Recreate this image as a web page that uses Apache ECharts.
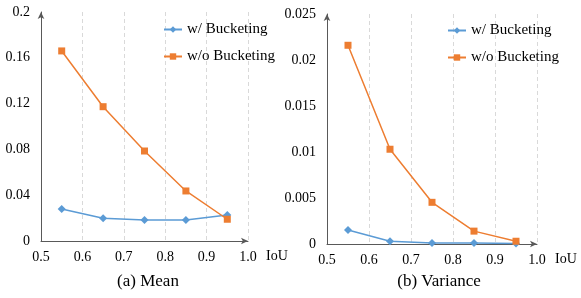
<!DOCTYPE html>
<html><head><meta charset="utf-8">
<script src="https://cdn.jsdelivr.net/npm/echarts@6/dist/echarts.min.js"></script>
<style>html,body{margin:0;padding:0;background:#fff}#c{width:581px;height:298px}</style>
</head><body><div id="c"></div>
<script>
const iou = [0.55, 0.65, 0.75, 0.85, 0.95];
const meanWith = [0.028, 0.0198, 0.0183, 0.0183, 0.0227];
const meanWithout = [0.166, 0.1173, 0.0786, 0.0437, 0.019];
const varWith = [0.00152, 0.0003, 0.0001, 0.0001, 0.00005];
const varWithout = [0.0216, 0.0103, 0.00453, 0.0014, 0.0003];
const seriesNames = ['w/ Bucketing', 'w/o Bucketing'];
const titles = ['(a) Mean', '(b) Variance'];
const xAxisName = 'IoU';

const FONT = 'Liberation Serif';
const BLUE = '#5B9BD5', ORANGE = '#ED7D31';
const pair = (xs, ys) => xs.map((x, i) => [x, ys[i]]);

const chart = echarts.init(document.getElementById('c'));
const xAxisBase = gi => ({
  type: 'value', gridIndex: gi, min: 0.5, max: 1.0, interval: 0.1,
  name: xAxisName, nameLocation: 'end', nameGap: 18,
  nameTextStyle: {fontFamily: FONT, fontSize: 14, color: '#000', align: 'left', verticalAlign: 'top', padding: [8, 0, 0, 0]},
  axisLine: {show: true, lineStyle: {color: '#595959', width: 1}, symbol: ['none', 'arrow'], symbolSize: [5, 7]},
  axisTick: {show: false},
  axisLabel: {fontFamily: FONT, fontSize: 14, color: '#000', margin: 9, formatter: v => v.toFixed(1)},
  splitLine: {show: true, lineStyle: {color: '#d9d9d9', type: [4, 3], width: 1}}
});
const yAxisBase = (gi, max, interval) => ({
  type: 'value', gridIndex: gi, min: 0, max: max, interval: interval,
  axisLine: {show: true, lineStyle: {color: '#595959', width: 1}, symbol: ['none', 'arrow'], symbolSize: [5, 7]},
  axisTick: {show: false},
  axisLabel: {fontFamily: FONT, fontSize: 14, color: '#000', margin: 11},
  splitLine: {show: false}
});
const lineSeries = (name, gi, data, color, symbol, size) => ({
  name, type: 'line', xAxisIndex: gi, yAxisIndex: gi, data,
  symbol, symbolSize: size, itemStyle: {color}, lineStyle: {color, width: 1.5}, animation: false
});
const legendText = {fontFamily: FONT, fontSize: 15, color: '#000'};

chart.setOption({
  animation: false,
  textStyle: {fontFamily: FONT},
  grid: [
    {left: 41, right: 333, top: 12, bottom: 57},
    {left: 327, right: 44, top: 14, bottom: 54}
  ],
  title: [
    {text: titles[0], left: 143, top: 268, textAlign: 'center', textStyle: {fontFamily: FONT, fontSize: 17, fontWeight: 'normal', color: '#000'}},
    {text: titles[1], left: 434, top: 268, textAlign: 'center', textStyle: {fontFamily: FONT, fontSize: 17, fontWeight: 'normal', color: '#000'}}
  ],
  legend: [
    {orient: 'vertical', left: 158, top: 17, itemWidth: 18, itemHeight: 8, itemGap: 12,
     textStyle: legendText, data: seriesNames},
    {orient: 'vertical', left: 442, top: 18, itemWidth: 18, itemHeight: 8, itemGap: 12,
     textStyle: legendText, data: seriesNames}
  ],
  xAxis: [xAxisBase(0), xAxisBase(1)],
  yAxis: [yAxisBase(0, 0.2, 0.04), yAxisBase(1, 0.025, 0.005)],
  series: [
    lineSeries(seriesNames[0], 0, pair(iou, meanWith), BLUE, 'diamond', 8),
    lineSeries(seriesNames[1], 0, pair(iou, meanWithout), ORANGE, 'rect', 7),
    lineSeries(seriesNames[0], 1, pair(iou, varWith), BLUE, 'diamond', 8),
    lineSeries(seriesNames[1], 1, pair(iou, varWithout), ORANGE, 'rect', 7)
  ]
});
</script></body></html>
